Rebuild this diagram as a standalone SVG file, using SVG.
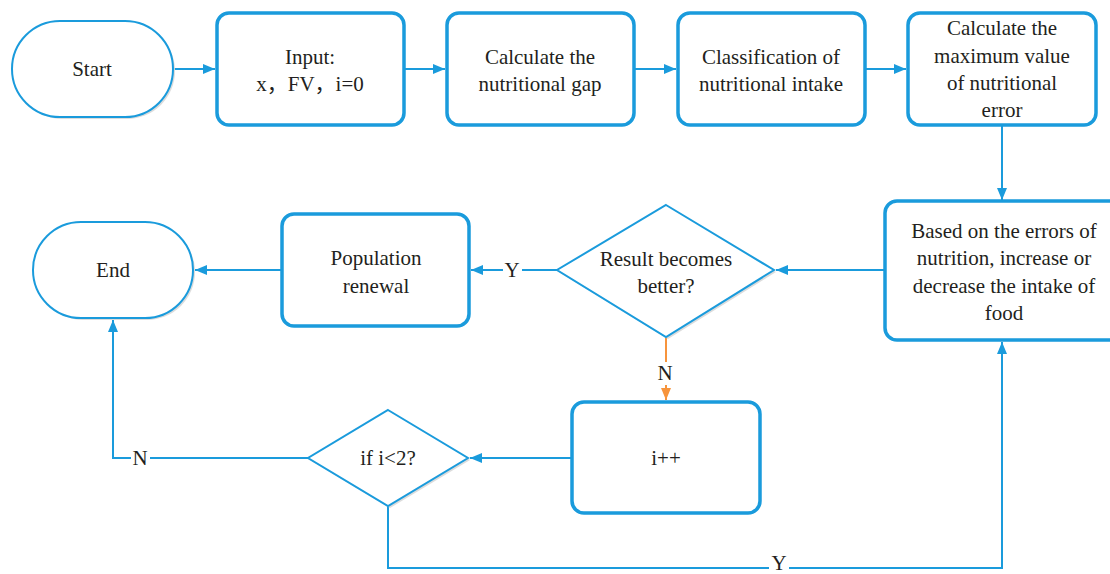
<svg xmlns="http://www.w3.org/2000/svg" width="1110" height="574" viewBox="0 0 1110 574">
<style>
.box{fill:#fff;stroke:#1A9BDC;stroke-width:3.5}
.term{fill:#fff;stroke:#1A9BDC;stroke-width:2}
.dia{fill:#fff;stroke:#1A9BDC;stroke-width:2}
.sh{fill:#dcdcdc;stroke:none}
.t{font-size:21px;fill:#231f20;text-anchor:middle}
.c{fill:none;stroke:#1A9BDC;stroke-width:2}
.o{fill:none;stroke:#F7943C;stroke-width:2}
</style>
<defs>
<marker id="a" markerUnits="userSpaceOnUse" markerWidth="14" markerHeight="12" refX="12" refY="5" orient="auto"><path d="M0,0 L12,5 L0,10 z" fill="#1A9BDC"/></marker>
<marker id="ao" markerUnits="userSpaceOnUse" markerWidth="14" markerHeight="12" refX="12" refY="5" orient="auto"><path d="M0,0 L12,5 L0,10 z" fill="#F7943C"/></marker>
</defs>
<rect width="1110" height="574" fill="#fff"/>
<g font-family="Liberation Serif, Tinos, Noto Serif, DejaVu Serif, Times New Roman, Times, serif">
<g id="connectors">
<path class="c" d="M174,69 H215" marker-end="url(#a)"/>
<path class="c" d="M405,69 H445" marker-end="url(#a)"/>
<path class="c" d="M635,69 H676" marker-end="url(#a)"/>
<path class="c" d="M866,69 H906" marker-end="url(#a)"/>
<path class="c" d="M1002,126 V200" marker-end="url(#a)"/>
<path class="c" d="M884,270 H776" marker-end="url(#a)"/>
<path class="c" d="M557,270 H471" marker-end="url(#a)"/>
<path class="c" d="M281,270 H195" marker-end="url(#a)"/>
<path class="o" d="M666,337 V362"/>
<path class="o" d="M666,385 V400" marker-end="url(#ao)"/>
<path class="c" d="M571,458 H470" marker-end="url(#a)"/>
<path class="c" d="M308,458 H113 V320" marker-end="url(#a)"/>
<path class="c" d="M388,506 V568 H1002 V342" marker-end="url(#a)"/>
<rect x="503" y="260" width="19" height="20" fill="#fff"/>
<text class="t" x="512" y="277">Y</text>
<rect x="131" y="448" width="19" height="20" fill="#fff"/>
<text class="t" x="140" y="465">N</text>
<text class="t" x="665" y="380">N</text>
<rect x="769" y="556" width="20" height="18" fill="#fff"/>
<text class="t" x="779" y="570">Y</text>
</g>
<g id="start">
<rect class="sh" x="14" y="23" width="161" height="96" rx="48"/>
<rect class="term" x="12" y="21" width="161" height="96" rx="48"/>
<text class="t" x="92" y="76">Start</text>
</g>
<g id="input">
<rect class="box" x="217" y="13" width="187" height="112" rx="12"/>
<text class="t" x="310" y="64">Input:</text>
<text class="t" x="310" y="91">x<tspan font-family="Noto Sans CJK SC, sans-serif">，</tspan>FV<tspan font-family="Noto Sans CJK SC, sans-serif">，</tspan>i=0</text>
</g>
<g id="gap">
<rect class="box" x="447" y="13" width="187" height="112" rx="12"/>
<text class="t" x="540" y="64">Calculate the</text>
<text class="t" x="540" y="91">nutritional gap</text>
</g>
<g id="classify">
<rect class="box" x="678" y="13" width="187" height="112" rx="12"/>
<text class="t" x="771" y="64">Classification of</text>
<text class="t" x="771" y="91">nutritional intake</text>
</g>
<g id="maxerr">
<rect class="box" x="908" y="13" width="188" height="112" rx="12"/>
<text class="t" x="1002" y="35">Calculate the</text>
<text class="t" x="1002" y="63">maximum value</text>
<text class="t" x="1002" y="90">of nutritional</text>
<text class="t" x="1002" y="117">error</text>
</g>
<g id="adjust">
<rect class="box" x="885" y="201" width="240" height="139" rx="12"/>
<text class="t" x="1004" y="238">Based on the errors of</text>
<text class="t" x="1004" y="265">nutrition, increase or</text>
<text class="t" x="1004" y="293">decrease the intake of</text>
<text class="t" x="1004" y="320">food</text>
</g>
<g id="better">
<polygon class="sh" points="668,207 776,272 668,339 559,272"/>
<polygon class="dia" points="666,205 774,270 666,337 557,270"/>
<text class="t" x="666" y="266">Result becomes</text>
<text class="t" x="666" y="293">better?</text>
</g>
<g id="population">
<rect class="box" x="282" y="214" width="187" height="112" rx="12"/>
<text class="t" x="376" y="265">Population</text>
<text class="t" x="376" y="293">renewal</text>
</g>
<g id="end">
<rect class="sh" x="35" y="224" width="160" height="96" rx="48"/>
<rect class="term" x="33" y="222" width="160" height="96" rx="48"/>
<text class="t" x="113" y="277">End</text>
</g>
<g id="incr">
<rect class="box" x="572" y="402" width="188" height="111" rx="12"/>
<text class="t" x="666" y="465">i++</text>
</g>
<g id="ifi">
<polygon class="sh" points="390,412 470,460 390,508 310,460"/>
<polygon class="dia" points="388,410 468,458 388,506 308,458"/>
<text class="t" x="388" y="465">if i&lt;2?</text>
</g>
</g>
</svg>
